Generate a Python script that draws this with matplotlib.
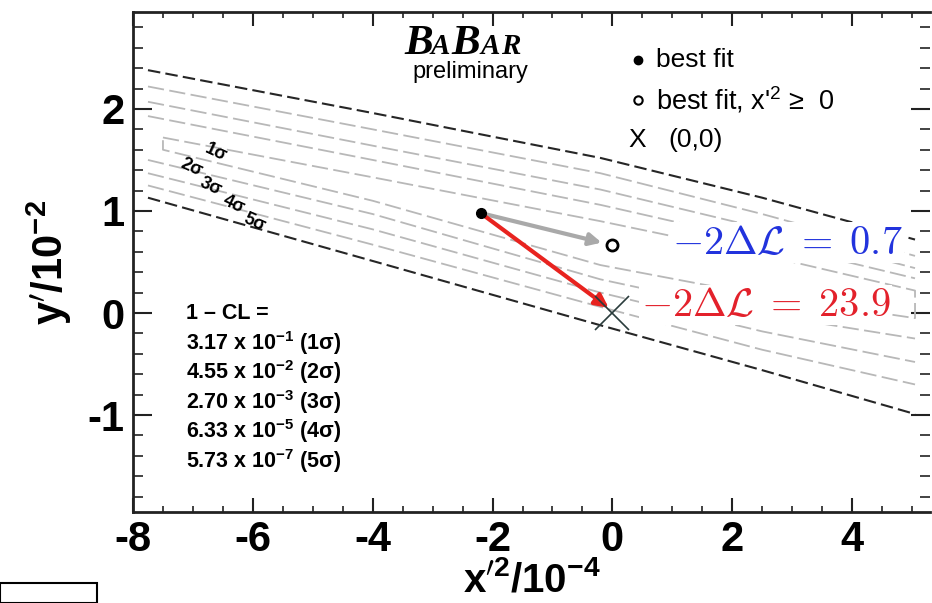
import matplotlib
matplotlib.use('Agg')
import matplotlib.pyplot as plt
import numpy as np
from matplotlib.ticker import MultipleLocator
from matplotlib.patches import Rectangle

plt.rcParams['font.family'] = ['Liberation Sans', 'DejaVu Sans']
plt.rcParams['axes.unicode_minus'] = False

# ---------------- data ----------------
x_major_ticks = [-8, -6, -4, -2, 0, 2, 4]
y_major_ticks = [-1, 0, 1, 2]

sigma_labels = ['1σ', '2σ', '3σ', '4σ', '5σ']
contour_x_start = [-7.5, -7.75, -7.75, -7.75, -7.75]
contour_x_nodes = [-4.0, -0.2, 2.5, 5.05]
contour_upper = [
    [1.72, 1.33, 0.90, 0.57, 0.22],
    [1.93, 1.50, 1.06, 0.70, 0.34],
    [2.07, 1.64, 1.21, 0.83, 0.44],
    [2.22, 1.80, 1.37, 0.97, 0.56],
    [2.38, 1.96, 1.52, 1.13, 0.72],
]
contour_lower = [
    [1.60, 1.10, 0.47, 0.17, -0.05],
    [1.50, 0.97, 0.33, -0.01, -0.25],
    [1.37, 0.82, 0.20, -0.18, -0.48],
    [1.25, 0.67, 0.06, -0.36, -0.70],
    [1.13, 0.51, -0.12, -0.56, -0.99],
]
sigma_label_x = [-6.62, -7.03, -6.70, -6.32, -5.98]
sigma_label_y = [1.57, 1.42, 1.24, 1.06, 0.89]

best_fit = (-2.2, 0.98)
best_fit_phys = (0.0, 0.67)
no_mixing = (0.0, 0.0)

cl_values = ['3.17', '4.55', '2.70', '6.33', '5.73']
cl_exponents = ['-1', '-2', '-3', '-5', '-7']

delta_ll_phys = '0.7'
delta_ll_nomix = '23.9'

# ---------------- figure ----------------
W, H = 932, 603
fig = plt.figure(figsize=(W / 100, H / 100), dpi=100)
left, right, bottom, top = 133, 930, 512, 12
ax = fig.add_axes([left / W, 1 - bottom / H, (right - left) / W, (bottom - top) / H])
ax.set_xlim(-8, 5.30)
ax.set_ylim(-1.95, 2.95)

# contours
for i in range(5):
    xs = [contour_x_start[i]] + contour_x_nodes
    up = contour_upper[i]
    lo = contour_lower[i]
    dark = (i == 4)
    col = '#262626' if dark else '#b8b8b8'
    ls = (0, (6, 2.5)) if dark else (0, (9, 3))
    lw = 1.5 if dark else 1.3
    if i == 0:
        xx = xs + xs[::-1] + [xs[0]]
        yy = up + lo[::-1] + [up[0]]
        ax.plot(xx, yy, color=col, lw=lw, ls=ls, zorder=2)
    else:
        ax.plot(xs, up, color=col, lw=lw, ls=ls, zorder=2)
        ax.plot(xs, lo, color=col, lw=lw, ls=ls, zorder=2)

for lab, lx, ly in zip(sigma_labels, sigma_label_x, sigma_label_y):
    ax.text(lx, ly, lab, fontsize=13, fontweight='bold', rotation=-25,
            ha='center', va='center', zorder=4)

# arrows
ax.annotate('', xy=(best_fit_phys[0] - 0.18, best_fit_phys[1] + 0.02), xytext=best_fit,
            arrowprops=dict(arrowstyle='-|>', color='#a9a9a9', lw=3, mutation_scale=18,
                            shrinkA=0, shrinkB=0), zorder=5)
ax.annotate('', xy=(no_mixing[0] - 0.06, no_mixing[1] + 0.05), xytext=best_fit,
            arrowprops=dict(arrowstyle='-|>', color='#e8231f', lw=3, mutation_scale=20,
                            shrinkA=0, shrinkB=0), zorder=6)
ax.plot(*best_fit, 'o', color='black', ms=7, zorder=7)
ax.plot(*best_fit_phys, 'o', mfc='white', mec='black', mew=2, ms=8, zorder=7)
ax.plot(*no_mixing, 'x', color='#2a3c3c', ms=24, mew=1.2, zorder=7)

# delta log-likelihood labels
ax.text(1.0, 0.69, r'$-\mathrm{2}\Delta\mathcal{L}\;=\;\mathrm{' + delta_ll_phys + '}$',
        color='#2233dd', fontsize=29, math_fontfamily='cm', ha='left', va='center',
        bbox=dict(fc='white', ec='none', pad=1), zorder=6)
ax.text(0.47, 0.08, r'$-\mathrm{2}\Delta\mathcal{L}\;=\;\mathrm{' + delta_ll_nomix + '}$',
        color='#e3212b', fontsize=29, math_fontfamily='cm', ha='left', va='center',
        bbox=dict(fc='white', ec='none', pad=1), zorder=6)

# legend
ax.plot(0.42, 2.48, 'o', color='black', ms=6)
ax.text(0.72, 2.48, 'best fit', fontsize=19, va='center', ha='left')
ax.plot(0.42, 2.09, 'o', mfc='white', mec='black', mew=1.5, ms=6)
ax.text(0.72, 2.09, r"best fit, x'$^{\mathregular{2}}$ ≥  0", fontsize=19.5, va='center', ha='left')
ax.text(0.42, 1.70, 'X', fontsize=19, va='center', ha='center')
ax.text(0.93, 1.70, '(0,0)', fontsize=19, va='center', ha='left')

# CL block
ax.text(-7.12, 0.0, '1 – CL =', fontsize=15.5, fontweight='bold', va='center', ha='left')
for k, (v, e) in enumerate(zip(cl_values, cl_exponents)):
    ax.text(-7.12, -0.29 * (k + 1), v + ' x 10$^{\\mathregular{' + e + '}}$ (' + str(k + 1) + 'σ)',
            fontsize=15.5, fontweight='bold', va='center', ha='left')

# BaBar logo
logo_chars = ['B', 'A', 'B', 'A', 'R']
logo_sizes = [31, 21, 31, 21, 21]
logo_px = [404, 431, 451, 481, 501]
for ch, sz, px in zip(logo_chars, logo_sizes, logo_px):
    fig.text(px / W, 1 - 54 / H, ch, fontsize=sz, fontweight='bold', fontstyle='italic',
             family='Liberation Serif', va='baseline', ha='left')
fig.text(470 / W, 1 - 72 / H, 'preliminary', fontsize=17, ha='center', va='center')

# axes styling
ax.xaxis.set_major_locator(MultipleLocator(2))
ax.xaxis.set_minor_locator(MultipleLocator(0.5))
ax.yaxis.set_major_locator(MultipleLocator(1))
ax.yaxis.set_minor_locator(MultipleLocator(0.2))
ax.set_xticks(x_major_ticks)
ax.set_yticks(y_major_ticks)
ax.tick_params(axis='both', which='both', direction='in', top=True, right=True, color='#222222')
ax.tick_params(axis='x', which='major', length=10, width=1.5, labelsize=30, pad=6)
ax.tick_params(axis='x', which='minor', length=4.5, width=1.2)
ax.tick_params(axis='y', which='major', length=14, width=1.5, labelsize=30, pad=6)
ax.tick_params(axis='y', which='minor', length=7, width=1.2)
for lab in ax.get_xticklabels() + ax.get_yticklabels():
    lab.set_fontweight('bold')
for s in ax.spines.values():
    s.set_linewidth(2)
    s.set_color('#222222')
ax.spines['right'].set_visible(False)

ax.set_xlabel(r"x$^{\prime\mathregular{2}}$/10$^{\mathregular{-4}}$", fontsize=29,
              fontweight='bold', labelpad=0)
ax.set_ylabel(r"y$^{\prime}$/10$^{\mathregular{-2}}$", fontsize=30, fontweight='bold', labelpad=10)

# cropped box at bottom-left
fig.add_artist(Rectangle((0, 0), 97 / W, 20 / H, transform=fig.transFigure,
                         fill=False, ec='black', lw=1.5))

fig.savefig('out.png', dpi=100)
